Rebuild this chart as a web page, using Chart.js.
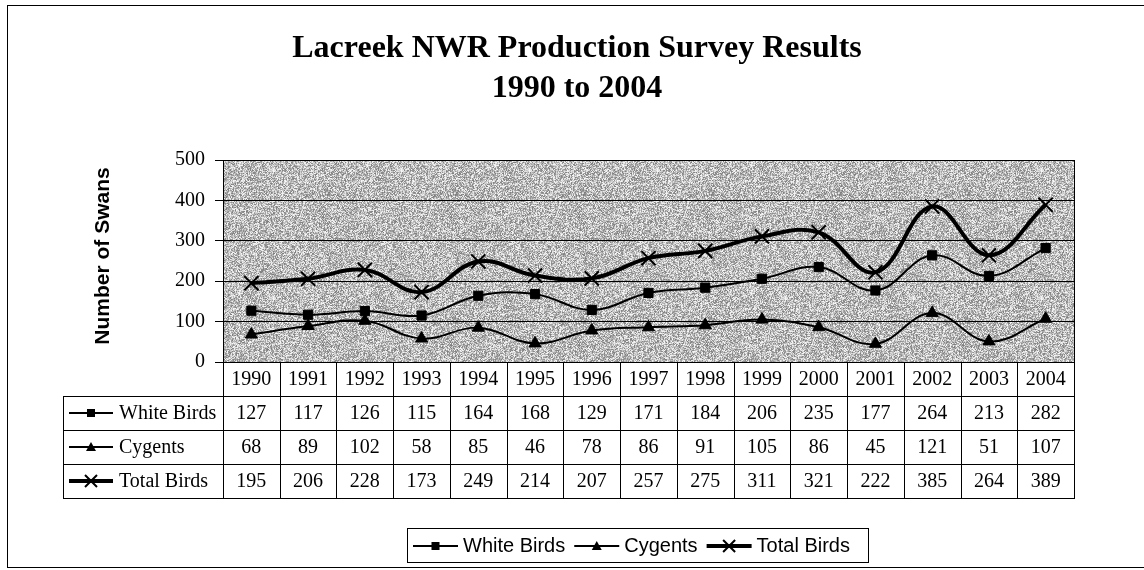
<!DOCTYPE html>
<html lang="en">
<head>
    <meta charset="UTF-8">
    <title>Lacreek NWR Production Survey Results</title>
    <script src="https://cdn.jsdelivr.net/npm/chart.js"></script>
    <style>
        body { margin: 0; background: #fff; }
        canvas { display: block; }
    </style>
</head>
<body>
    <canvas id="grafico" width="1144" height="570"></canvas>
    <script>
    // datos
    const years = ['1990', '1991', '1992', '1993', '1994', '1995', '1996', '1997', '1998', '1999', '2000', '2001', '2002', '2003', '2004'];
    const whiteBirds = [127, 117, 126, 115, 164, 168, 129, 171, 184, 206, 235, 177, 264, 213, 282];
    const cygents = [68, 89, 102, 58, 85, 46, 78, 86, 91, 105, 86, 45, 121, 51, 107];
    const totalBirds = [195, 206, 228, 173, 249, 214, 207, 257, 275, 311, 321, 222, 385, 264, 389];
    const yTicks = [0, 100, 200, 300, 400, 500];

    const serif = "'Liberation Serif', 'Times New Roman', serif";
    const sans = "'Liberation Sans', Arial, sans-serif";

    // marcador pequeño para tabla y leyenda
    function drawMarker(ctx, style, x, y) {
        ctx.save();
        ctx.fillStyle = '#000';
        ctx.strokeStyle = '#000';
        if (style === 'rect') {
            ctx.fillRect(x - 4, y - 4, 8, 8);
        } else if (style === 'triangle') {
            ctx.beginPath();
            ctx.moveTo(x, y - 5);
            ctx.lineTo(x + 5, y + 4);
            ctx.lineTo(x - 5, y + 4);
            ctx.closePath();
            ctx.fill();
        } else {
            ctx.lineWidth = 2;
            ctx.beginPath();
            ctx.moveTo(x - 6, y - 6); ctx.lineTo(x + 6, y + 6);
            ctx.moveTo(x + 6, y - 6); ctx.lineTo(x - 6, y + 6);
            ctx.stroke();
        }
        ctx.restore();
    }

    function drawSymbol(ctx, style, width, x1, x2, y) {
        ctx.save();
        ctx.strokeStyle = '#000';
        ctx.lineWidth = width;
        ctx.beginPath();
        ctx.moveTo(x1, y);
        ctx.lineTo(x2, y);
        ctx.stroke();
        ctx.restore();
        drawMarker(ctx, style, (x1 + x2) / 2, y);
    }

    // fondo gris granulado del area de trazado
    function makeNoise() {
        const c = document.createElement('canvas');
        c.width = 128; c.height = 128;
        const g = c.getContext('2d');
        const img = g.createImageData(128, 128);
        let s = 12345;
        for (let i = 0; i < 128 * 128; i++) {
            s = (s * 1103515245 + 12345) & 0x7fffffff;
            const v = 125 + ((s >> 8) % 125);
            img.data[i * 4] = v;
            img.data[i * 4 + 1] = v;
            img.data[i * 4 + 2] = v;
            img.data[i * 4 + 3] = 255;
        }
        g.putImageData(img, 0, 0);
        return c;
    }
    const noise = makeNoise();

    const series = [
        { label: 'White Birds', data: whiteBirds, style: 'rect', width: 2 },
        { label: 'Cygents', data: cygents, style: 'triangle', width: 2 },
        { label: 'Total Birds', data: totalBirds, style: 'crossRot', width: 4 }
    ];

    const decor = {
        id: 'decor',
        beforeDraw(chart) {
            const ctx = chart.ctx;
            const a = chart.chartArea;
            ctx.save();
            ctx.fillStyle = '#fff';
            ctx.fillRect(0, 0, chart.width, chart.height);
            ctx.fillStyle = ctx.createPattern(noise, 'repeat');
            ctx.fillRect(a.left, a.top, a.right - a.left, a.bottom - a.top);
            ctx.restore();
        },
        afterDraw(chart) {
            const ctx = chart.ctx;
            const a = chart.chartArea;
            const x = chart.scales.x;
            ctx.save();
            ctx.strokeStyle = '#000';
            ctx.lineWidth = 1;

            // marco exterior
            ctx.strokeRect(7.5, 5.5, 1160, 562);
            // marco del area
            ctx.strokeRect(Math.round(a.left) + 0.5, Math.round(a.top) + 0.5, Math.round(a.right - a.left), Math.round(a.bottom - a.top));

            // titulo
            ctx.fillStyle = '#000';
            ctx.textAlign = 'center';
            ctx.textBaseline = 'alphabetic';
            ctx.font = 'bold 32px ' + serif;
            ctx.fillText('Lacreek NWR Production Survey Results', 577, 57);
            ctx.fillText('1990 to 2004', 577, 97);

            // titulo del eje y
            ctx.save();
            ctx.translate(109, 256);
            ctx.rotate(-Math.PI / 2);
            ctx.font = 'bold 21px ' + sans;
            ctx.fillText('Number of Swans', 0, 0);
            ctx.restore();

            // tabla de datos
            const half = (x.getPixelForValue(1) - x.getPixelForValue(0)) / 2;
            const rowH = 34;
            const top = Math.round(a.bottom);
            const tabLeft = 63;
            const right = Math.round(a.right);
            const bottom = top + rowH * 4;

            ctx.beginPath();
            for (let r = 1; r <= 4; r++) {
                const yy = top + rowH * r + 0.5;
                ctx.moveTo(tabLeft, yy);
                ctx.lineTo(right + 1, yy);
            }
            for (let i = 0; i <= years.length; i++) {
                const xx = Math.round(x.getPixelForValue(i) - half) + 0.5;
                ctx.moveTo(xx, top);
                ctx.lineTo(xx, bottom + 1);
            }
            ctx.moveTo(tabLeft + 0.5, top + rowH);
            ctx.lineTo(tabLeft + 0.5, bottom + 1);
            ctx.stroke();

            ctx.font = '20px ' + serif;
            ctx.textBaseline = 'middle';
            ctx.textAlign = 'center';
            years.forEach((yr, i) => {
                ctx.fillText(yr, x.getPixelForValue(i), top + rowH / 2 + 1);
            });
            series.forEach((s, r) => {
                const cy = top + rowH * (r + 1) + rowH / 2 + 1;
                ctx.textAlign = 'center';
                s.data.forEach((v, i) => {
                    ctx.fillText(String(v), x.getPixelForValue(i), cy);
                });
                drawSymbol(ctx, s.style, s.width, 69, 113, cy - 1);
                ctx.textAlign = 'left';
                ctx.fillText(s.label, 119, cy);
            });

            // leyenda
            ctx.strokeRect(407.5, 528.5, 461, 34);
            ctx.font = '20px ' + sans;
            ctx.textAlign = 'left';
            let lx = 413;
            const ly = 546;
            series.forEach(s => {
                drawSymbol(ctx, s.style, s.width, lx, lx + 45, ly);
                lx += 50;
                ctx.fillText(s.label, lx, ly);
                lx += ctx.measureText(s.label).width + 9;
            });
            ctx.restore();
        }
    };

    const ctx = document.getElementById('grafico').getContext('2d');
    const chart = new Chart(ctx, {
        type: 'line',
        data: {
            labels: years,
            datasets: series.map(s => ({
                label: s.label,
                data: s.data,
                borderColor: '#000',
                backgroundColor: '#000',
                borderWidth: s.width,
                tension: 0.4,
                pointStyle: s.style,
                pointRadius: s.style === 'crossRot' ? 10 : (s.style === 'rect' ? 6.5 : 7),
                pointBorderWidth: s.style === 'crossRot' ? 2 : 1,
                pointBackgroundColor: '#000',
                pointBorderColor: '#000',
                clip: false
            }))
        },
        options: {
            responsive: false,
            animation: false,
            layout: { padding: { left: 0, top: 160, right: 70, bottom: 208 } },
            plugins: {
                legend: { display: false },
                title: { display: false },
                tooltip: { enabled: false }
            },
            scales: {
                x: {
                    display: false,
                    offset: true
                },
                y: {
                    min: 0,
                    max: 500,
                    afterFit(scale) { scale.width = 223; },
                    afterBuildTicks(scale) { scale.ticks = yTicks.map(v => ({ value: v })); },
                    ticks: {
                        color: '#000',
                        padding: 10,
                        font: { family: serif, size: 20 }
                    },
                    grid: { color: '#000', lineWidth: 1, tickLength: 8, drawTicks: true },
                    border: { display: true, color: '#000' }
                }
            }
        },
        plugins: [decor]
    });
    </script>
</body>
</html>
